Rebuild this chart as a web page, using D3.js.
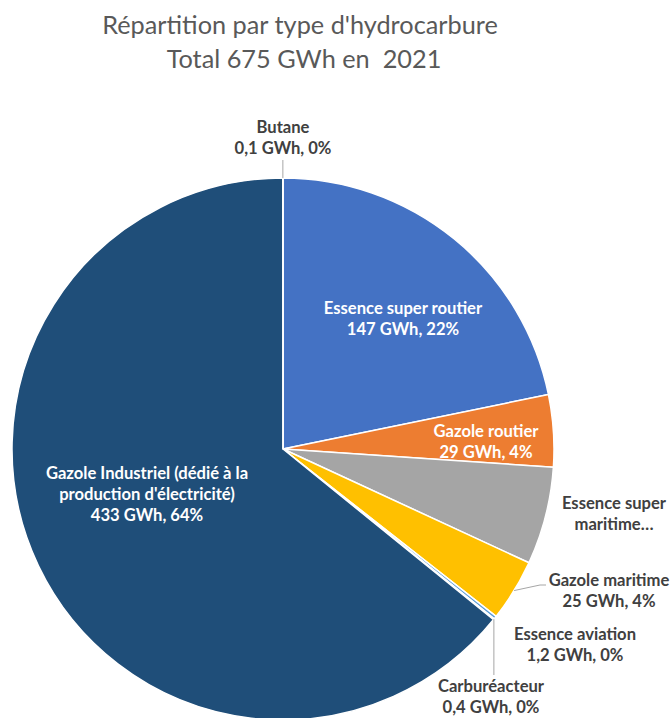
<!DOCTYPE html>
<html>
<head>
<meta charset="utf-8">
<script src="https://cdn.jsdelivr.net/npm/d3@7"></script>
<style>
  html, body { margin: 0; padding: 0; background: #fff; }
  svg { display: block; }
</style>
</head>
<body>
<svg id="chart" width="672" height="718"></svg>
<script>
// Fuel types, in drawing order (clockwise from 12 o'clock)
const categories = [
  "Essence super routier",
  "Gazole routier",
  "Essence super maritime",
  "Gazole maritime",
  "Essence aviation",
  "Carburéacteur",
  "Gazole Industriel (dédié à la production d'électricité)",
  "Butane"
];
// Energy, GWh
const values = [147, 29, 39.3, 25, 1.2, 0.4, 433, 0.1];
const colors = ["#4472C4", "#ED7D31", "#A5A5A5", "#FFC000", "#5B9BD5", "#70AD47", "#1F4E79", "#264478"];
// Label lines as printed next to each slice (value line appended when shown)
const labelLines = [
  ["Essence super routier"],
  ["Gazole routier"],
  ["Essence super", "maritime…"],
  ["Gazole maritime"],
  ["Essence aviation"],
  ["Carburéacteur"],
  ["Gazole Industriel (dédié à la", "production d'électricité)"],
  ["Butane"]
];
const showValue = [true, true, false, true, true, true, true, true];
const titleLines = ["Répartition par type d'hydrocarbure", "Total 675 GWh en  2021"];

// Label placement: x centre, first baseline, inside/outside, leader line end
const layout = [
  { x: 403, y: 314, inside: true },
  { x: 486, y: 437, inside: true },
  { x: 614, y: 509, inside: false },
  { x: 609, y: 586, inside: false, leader: [[540, 585], [546, 585]] },
  { x: 575, y: 640, inside: false },
  { x: 491, y: 692, inside: false, leader: [[null, 675]] },
  { x: 147, y: 479, inside: true },
  { x: 283, y: 133, inside: false, leader: [[null, 160]] }
];

const svg = d3.select("#chart");
const cx = 283, cy = 449, R = 271;
const total = d3.sum(values);

// Title
svg.append("g")
  .selectAll("text")
  .data(titleLines)
  .join("text")
  .attr("x", (d, i) => i === 0 ? 300 : 304)
  .attr("y", (d, i) => 34 + i * 34)
  .attr("text-anchor", "middle")
  .attr("font-family", "Lato, 'Open Sans', sans-serif")
  .attr("font-size", 25.3)
  .attr("fill", "#595959")
  .style("white-space", "pre")
  .text(d => d);

const pie = d3.pie().sort(null).value(d => d);
const arcs = pie(values);
const arc = d3.arc().innerRadius(0).outerRadius(R);

const g = svg.append("g").attr("transform", `translate(${cx},${cy})`);

g.selectAll("path")
  .data(arcs)
  .join("path")
  .attr("d", arc)
  .attr("fill", (d, i) => colors[i])
  .attr("stroke", "#fff")
  .attr("stroke-width", 1.5)
  .attr("stroke-linejoin", "round");

// Leader lines from slice edge to label
const fmtNum = v => (Number.isInteger(v) ? String(v) : String(v).replace(".", ","));
arcs.forEach((a, i) => {
  const L = layout[i];
  if (!L.leader) return;
  const mid = (a.startAngle + a.endAngle) / 2;
  const x0 = cx + R * Math.sin(mid);
  const y0 = cy - R * Math.cos(mid);
  const pts = [[x0, y0]].concat(L.leader.map(p => [p[0] === null ? x0 : p[0], p[1]]));
  svg.append("path")
    .attr("d", d3.line()(pts))
    .attr("fill", "none")
    .attr("stroke", "#A6A6A6")
    .attr("stroke-width", 1);
});

// Data labels
const labels = svg.append("g")
  .attr("font-family", "Lato, 'Open Sans', sans-serif")
  .attr("font-weight", "bold")
  .attr("font-size", 16.6)
  .attr("text-anchor", "middle");

arcs.forEach((a, i) => {
  const L = layout[i];
  const lines = labelLines[i].slice();
  if (showValue[i]) {
    const pct = Math.round(values[i] / total * 100);
    lines.push(`${fmtNum(values[i])} GWh, ${pct}%`);
  }
  labels.append("g")
    .selectAll("text")
    .data(lines)
    .join("text")
    .attr("x", L.x)
    .attr("y", (d, k) => L.y + k * 21)
    .attr("fill", L.inside ? "#FFFFFF" : "#404040")
    .text(d => d);
});
</script>
</body>
</html>
